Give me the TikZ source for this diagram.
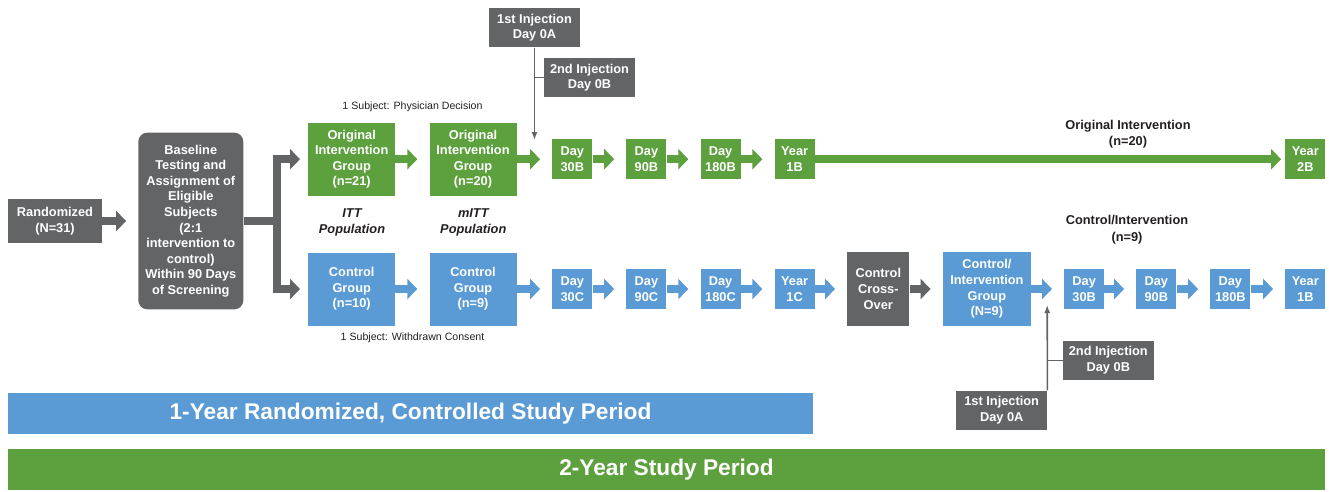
\documentclass[tikz,border=0pt]{standalone}
\usepackage{fontspec}
\setmainfont{Liberation Sans}
\usetikzlibrary{arrows.meta,positioning}
\definecolor{grn}{RGB}{93,160,62}
\definecolor{blu}{RGB}{91,155,213}
\definecolor{gry}{RGB}{99,100,102}
\definecolor{ink}{RGB}{35,31,32}

\begin{document}
\begin{tikzpicture}[x=1pt, y=-1pt, node distance=33.7pt, >=Latex,
  box/.style={text=white, align=center, inner sep=0pt, font=\bfseries\fontsize{12.8}{15.6}\selectfont},
  gbox/.style={box, fill=grn},
  bbox/.style={box, fill=blu},
  dbox/.style={box, fill=gry},
  day/.style={minimum width=40pt, minimum height=40pt},
  grp/.style={minimum width=87pt, minimum height=73pt},
  injbox/.style={dbox, minimum width=91pt, minimum height=39pt},
  bar/.style={minimum height=41pt, font=\bfseries\fontsize{22.7}{27}\selectfont},
  fat/.style={line width=8.5pt, -{Triangle[width=20pt,length=10pt]}, shorten >=12pt},
  inj/.style={draw=gry, line width=1.6pt},
  note/.style={text=ink, font=\fontsize{10.6}{12}\selectfont},
  lbl/.style={text=ink, align=center, font=\bfseries\fontsize{12.8}{16.5}\selectfont}
]
  \useasboundingbox (0,0) rectangle (1329,491);

  \node[dbox, minimum width=93.4pt, minimum height=44pt] (rand) at (55,221) {Randomized\\(N=31)};
  \node[dbox, rounded corners=9pt, minimum width=105pt, minimum height=176.7pt] (base) at (190.8,221) {Baseline\\Testing and\\Assignment of\\Eligible\\Subjects\\(2:1\\intervention to\\control)\\Within 90 Days\\of Screening};
  \coordinate (split) at (277,221);

  \node[gbox, grp] (oig1) at (351.7,159.2) {Original\\Intervention\\Group\\(n=21)};
  \node[gbox, grp] (oig2) at (473,159.2) {Original\\Intervention\\Group\\(n=20)};
  \node[gbox, day] (d30b) at (572.3,159.2) {Day\\30B};
  \node[gbox, day, right=of d30b] (d90b) {Day\\90B};
  \node[gbox, day, right=of d90b] (d180b) {Day\\180B};
  \node[gbox, day, right=of d180b] (y1b) {Year\\1B};
  \node[gbox, day] (y2b) at (1305.3,159.2) {Year\\2B};

  \node[bbox, grp] (cg1) at (351.7,289) {Control\\Group\\(n=10)};
  \node[bbox, grp] (cg2) at (473,289) {Control\\Group\\(n=9)};
  \node[bbox, day] (d30c) at (572.3,289) {Day\\30C};
  \node[bbox, day, right=of d30c] (d90c) {Day\\90C};
  \node[bbox, day, right=of d90c] (d180c) {Day\\180C};
  \node[bbox, day, right=of d180c] (y1c) {Year\\1C};
  \node[dbox, minimum width=62pt, minimum height=73.3pt] (cross) at (878.3,289) {Control\\Cross-\\Over};
  \node[bbox, minimum width=88.3pt, minimum height=73.3pt] (cig) at (986.9,289) {Control/\\Intervention\\Group\\(N=9)};
  \node[bbox, day] (ci30) at (1084.2,289) {Day\\30B};
  \node[bbox, day] (ci90) at (1156.3,289) {Day\\90B};
  \node[bbox, day] (ci180) at (1230.3,289) {Day\\180B};
  \node[bbox, day] (ci1y) at (1305.3,289) {Year\\1B};

  \node[injbox] (inj1) at (534.5,27.8) {1st Injection\\Day 0A};
  \node[injbox] (inj2) at (589.5,77.5) {2nd Injection\\Day 0B};
  \node[injbox] (inj1c) at (1001.7,410) {1st Injection\\Day 0A};
  \node[injbox] (inj2c) at (1108.3,360.3) {2nd Injection\\Day 0B};
  \coordinate (hit1) at (534.5,140);
  \coordinate (hit2) at (1047.2,305);

  \node[note] (phys) at (412.5,106.7) {1 Subject: Physician Decision};
  \node[note] (wdc) at (412.5,337.7) {1 Subject: Withdrawn Consent};
  \node[lbl, font=\bfseries\itshape\fontsize{12.8}{15.7}\selectfont] (itt) at (352,222.2) {ITT\\Population};
  \node[lbl, font=\bfseries\itshape\fontsize{12.8}{15.7}\selectfont] (mitt) at (473.3,222.2) {mITT\\Population};
  \node[lbl] (oilbl) at (1128,134) {Original Intervention\\(n=20)};
  \node[lbl] (cilbl) at (1127,229.7) {Control/Intervention\\(n=9)};

  \node[bbox, bar, minimum width=805pt] (bar1) at (410.5,413.5) {1-Year Randomized, Controlled Study Period};
  \node[gbox, bar, minimum width=1317pt] (bar2) at (666.5,469.5) {2-Year Study Period};

  \draw[fat, gry] (rand) -- (base);
  \draw[gry, line width=8.5pt] (base.east) -- (split);
  \draw[fat, gry, line join=miter, shorten >=8pt] (split) |- (oig1);
  \draw[fat, gry, line join=miter, shorten >=8pt] (split) |- (cg1);

  \draw[fat, grn] (oig1) -- (oig2);
  \draw[fat, grn] (oig2) -- (d30b);
  \draw[fat, grn] (d30b) -- (d90b);
  \draw[fat, grn] (d90b) -- (d180b);
  \draw[fat, grn] (d180b) -- (y1b);
  \draw[fat, grn, shorten >=4pt] (y1b) -- (y2b);

  \draw[fat, blu] (cg1) -- (cg2);
  \draw[fat, blu] (cg2) -- (d30c);
  \draw[fat, blu] (d30c) -- (d90c);
  \draw[fat, blu] (d90c) -- (d180c);
  \draw[fat, blu] (d180c) -- (y1c);
  \draw[fat, blu] (y1c) -- (cross);
  \draw[fat, gry] (cross) -- (cig);
  \draw[fat, blu] (cig) -- (ci30);
  \draw[fat, blu] (ci30) -- (ci90);
  \draw[fat, blu] (ci90) -- (ci180);
  \draw[fat, blu] (ci180) -- (ci1y);

  \draw[inj, -{Latex[width=6pt,length=8pt]}] (inj1.south) -- (hit1);
  \draw[inj] (inj2.west) -- (inj1.south |- inj2.west);
  \draw[inj, -{Latex[width=6pt,length=8pt]}] (inj1c.north east) -- (hit2);
  \draw[inj] (inj2c.west) -- (hit2 |- inj2c.west);
\end{tikzpicture}
\end{document}
